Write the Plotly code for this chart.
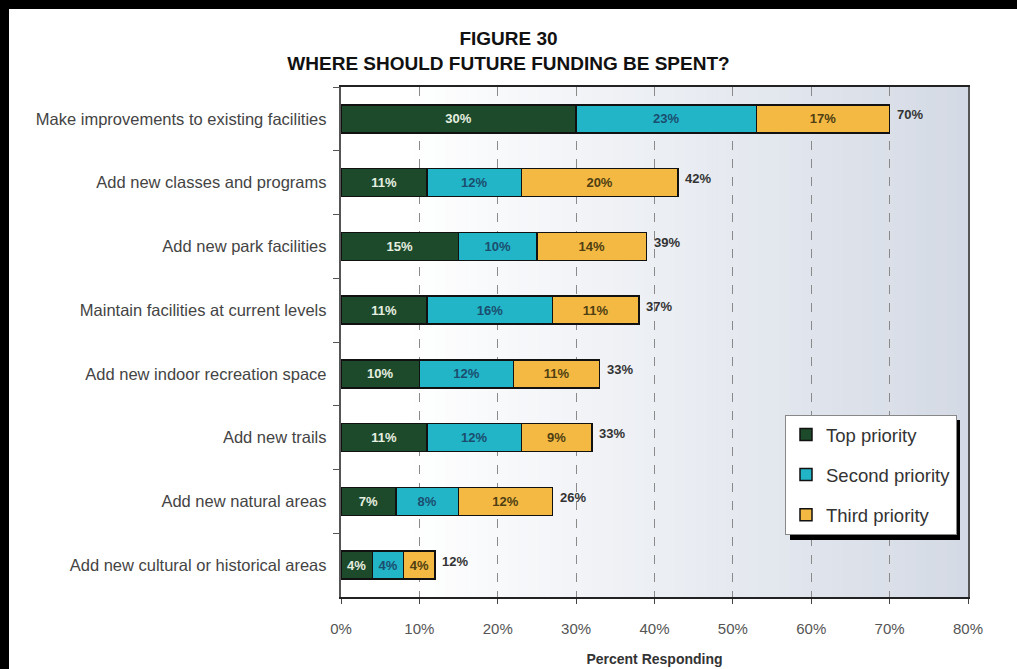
import plotly.graph_objects as go

categories = [
    "Make improvements to existing facilities",
    "Add new classes and programs",
    "Add new park facilities",
    "Maintain facilities at current levels",
    "Add new indoor recreation space",
    "Add new trails",
    "Add new natural areas",
    "Add new cultural or historical areas",
]
top_priority = [30, 11, 15, 11, 10, 11, 7, 4]
second_priority = [23, 12, 10, 16, 12, 12, 8, 4]
third_priority = [17, 20, 14, 11, 11, 9, 12, 4]
total_labels = [70, 42, 39, 37, 33, 33, 26, 12]
x_ticks = [0, 10, 20, 30, 40, 50, 60, 70, 80]

FONT = "Liberation Sans, Arial, sans-serif"

series = [
    ("Top priority", top_priority, "#1d4a2a", "#e6efe0"),
    ("Second priority", second_priority, "#22b5c8", "#1b4e6e"),
    ("Third priority", third_priority, "#f4b943", "#4f3f12"),
]

# plot-area pixel geometry
L, R, T, B = 341, 968, 87, 597
W, H = R - L, B - T


def px(xp):
    return (xp - L) / W


def py(yp):
    return (B - yp) / H


fig = go.Figure()
for i, (name, vals, color, tcolor) in enumerate(series):
    fig.add_trace(go.Bar(
        y=categories, x=vals, name=name, orientation="h",
        marker=dict(color=color, line=dict(color="#111111", width=1.5)),
        text=[f"{v}%" for v in vals], textposition="inside",
        insidetextanchor="middle", textangle=0,
        textfont=dict(family=FONT, size=13, color=tcolor, weight="bold"),
        legendgroup=f"g{i}",
        hoverinfo="skip",
    ))

sums = [a + b + c for a, b, c in zip(top_priority, second_priority, third_priority)]
for cat, s, lab in zip(categories, sums, total_labels):
    fig.add_annotation(x=s, y=cat, text=f"{lab}%", showarrow=False,
                       xanchor="left", xshift=5, yshift=4,
                       font=dict(family=FONT, size=13, color="#333333", weight="bold"))

# gradient background
n = 60
c0 = (255, 255, 255)
c1 = (212, 218, 229)
shapes = []
for k in range(n):
    t = k / (n - 1)
    t2 = max(0.0, (t - 0.1) / 0.9)
    col = tuple(round(c0[j] + (c1[j] - c0[j]) * t2) for j in range(3))
    shapes.append(dict(type="rect", xref="paper", yref="paper",
                       x0=k / n, x1=(k + 1) / n + 0.002, y0=0, y1=1,
                       fillcolor=f"rgb{col}", line=dict(width=0), layer="below"))
# black frame bands at top and left of the page
shapes.append(dict(type="rect", xref="paper", yref="paper",
                   x0=px(-5), x1=px(1025), y0=py(9), y1=py(-5),
                   fillcolor="black", line=dict(width=0), layer="below"))
shapes.append(dict(type="rect", xref="paper", yref="paper",
                   x0=px(-5), x1=px(9), y0=py(675), y1=py(-5),
                   fillcolor="black", line=dict(width=0), layer="below"))
# legend shadow
shapes.append(dict(type="rect", xref="paper", yref="paper",
                   x0=px(790), x1=px(960), y0=py(540), y1=py(420),
                   fillcolor="black", line=dict(width=0), layer="above"))

fig.update_layout(
    width=1017, height=669,
    margin=dict(l=L, r=1017 - R, t=T, b=669 - B, autoexpand=False),
    barmode="stack", bargap=0.56,
    paper_bgcolor="white", plot_bgcolor="white",
    font=dict(family=FONT, color="#333333"),
    title=dict(
        text="FIGURE 30<br>WHERE SHOULD FUTURE FUNDING BE SPENT?",
        x=0.5, xref="container", xanchor="center",
        y=0.932, yanchor="top",
        font=dict(family=FONT, size=19, color="#111111", weight="bold"),
    ),
    xaxis=dict(
        range=[0, 80], tickvals=x_ticks, ticktext=[f"{v}%" for v in x_ticks],
        showgrid=True, gridcolor="#8a8a8a", griddash="dash", gridwidth=1,
        showline=True, linecolor="#222222", linewidth=2, mirror=True,
        ticks="outside", ticklen=5, tickcolor="#444444",
        ticklabelstandoff=12, automargin=False,
        tickfont=dict(family=FONT, size=15, color="#555555"),
        title=dict(text="Percent Responding", standoff=18,
                   font=dict(family=FONT, size=14, color="#333333", weight="bold")),
        zeroline=False,
    ),
    yaxis=dict(
        autorange="reversed", categoryorder="array", categoryarray=categories,
        showline=True, linecolor="#555555", linewidth=2, mirror=True,
        ticks="outside", ticklen=6, tickson="boundaries", tickcolor="#555555",
        tickfont=dict(family=FONT, size=16.5, color="#444444"),
        ticksuffix="  ", automargin=False,
    ),
    legend=dict(
        x=px(785), y=py(415), xanchor="left", yanchor="top",
        bgcolor="white", bordercolor="#888888", borderwidth=1,
        font=dict(family=FONT, size=18.5, color="#333333"),
        tracegroupgap=13, itemwidth=30,
    ),
    shapes=shapes,
)

fig.write_html("out.html")
